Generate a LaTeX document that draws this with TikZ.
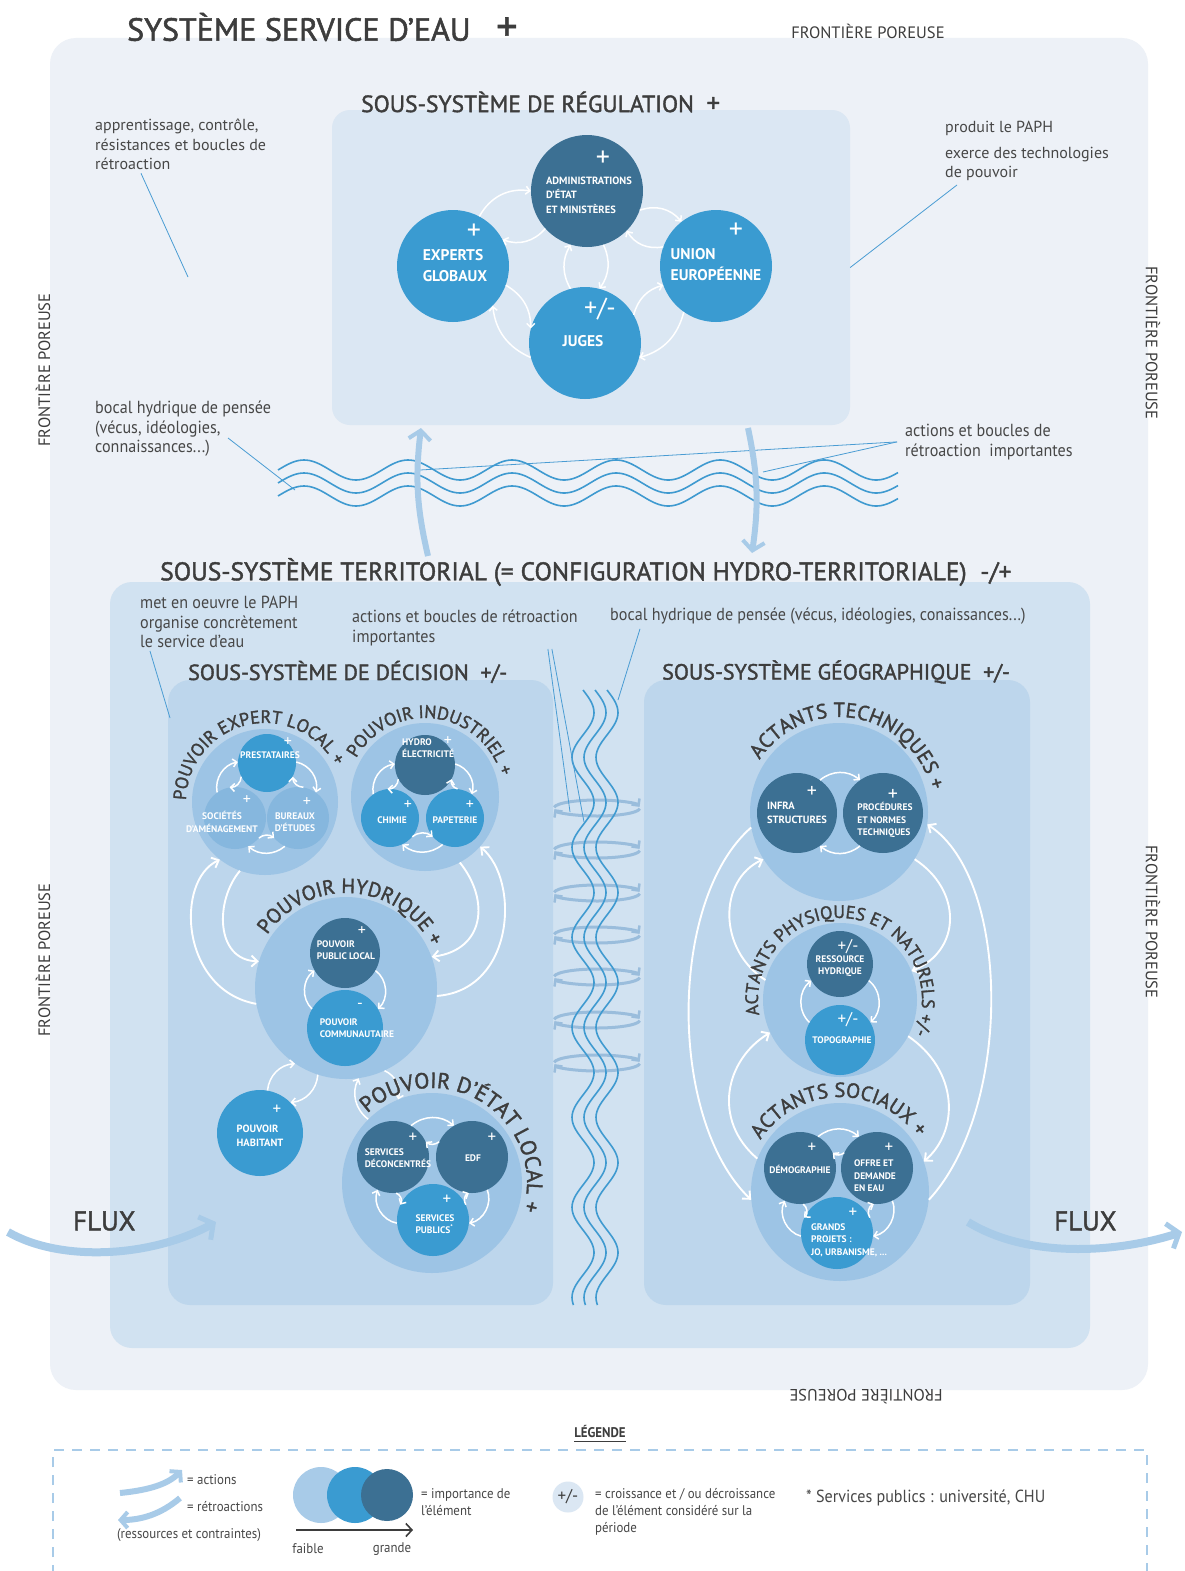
\documentclass[tikz,border=0pt]{standalone}
\usepackage{fontspec}
\setmainfont{PT Sans}
\newfontfamily\condfont[FakeStretch=0.92]{PT Sans}
\newfontfamily\semifont[FakeBold=1.6]{PT Sans}
\usetikzlibrary{arrows.meta,positioning,decorations.text}
\definecolor{outerfill}{HTML}{EDF1F7}
\definecolor{regfill}{HTML}{DBE7F3}
\definecolor{terrfill}{HTML}{D1E2F1}
\definecolor{subfill}{HTML}{BDD6EC}
\definecolor{grpfill}{HTML}{9DC4E5}
\definecolor{darkc}{HTML}{3C7093}
\definecolor{midc}{HTML}{3A9BD1}
\definecolor{lightc}{HTML}{86B7DE}
\definecolor{wavec}{HTML}{3F9AD0}
\definecolor{flowc}{HTML}{A8CBE8}
\definecolor{loopc}{HTML}{9ABDDC}
\definecolor{txtc}{HTML}{3D3D3D}
\definecolor{notec}{HTML}{474747}
\definecolor{leadc}{HTML}{4A9CD3}
\newcommand\arcS{\semifont\fontsize{18}{18}\selectfont}
\newcommand\arcM{\semifont\fontsize{20.5}{20.5}\selectfont}
\newcommand\arcL{\semifont\fontsize{22}{22}\selectfont}

\begin{document}
\begin{tikzpicture}[x=1pt, y=1pt,
  panel/.style={rectangle, rounded corners=#1, inner sep=0pt, draw=none},
  grp/.style={circle, fill=grpfill, inner sep=0pt, minimum size=#1},
  dk/.style={circle, fill=darkc, inner sep=0pt, minimum size=#1},
  md/.style={circle, fill=midc, inner sep=0pt, minimum size=#1},
  lt/.style={circle, fill=lightc, inner sep=0pt, minimum size=#1},
  ttl/.style={anchor=west, inner sep=0pt, text=txtc, font=\semifont\fontsize{#1}{#1}\selectfont},
  fr/.style={inner sep=0pt, text=txtc, font=\fontsize{16.5}{16.5}\selectfont},
  note/.style={anchor=north west, inner sep=0pt, align=left, text=notec, font=\fontsize{16}{19.5}\selectfont},
  cnote/.style={note, font=\condfont\fontsize{17.5}{19.5}\selectfont},
  clabS/.style={inner sep=0pt, text=white, align=left, font=\bfseries\fontsize{9.5}{12.5}\selectfont},
  clabM/.style={inner sep=0pt, text=white, align=left, font=\bfseries\fontsize{10.5}{14.5}\selectfont},
  clabL/.style={inner sep=0pt, text=white, align=left, font=\bfseries\fontsize{15.5}{21}\selectfont},
  pls/.style={inner sep=0pt, text=white, font=\fontsize{#1}{#1}\selectfont},
  wa/.style={draw=white, line width=1.5pt, -{Straight Barb[length=4pt,width=8pt]}},
  wab/.style={draw=white, line width=1.9pt, -{Straight Barb[length=6pt,width=11pt]}},
  leader/.style={draw=leadc, line width=0.8pt},
  wave/.style={draw=wavec, line width=1.6pt},
  bigar/.style={draw=flowc, line width=6pt, -{Straight Barb[length=9pt,width=22pt,line width=4pt]}},
  fluxar/.style={draw=flowc, line width=8pt, -{Straight Barb[length=10pt,width=26pt,line width=5pt]}},
  loopar/.style={draw=loopc, line width=3pt, -{Straight Barb[length=5pt,width=10pt,line width=2.5pt]}},
  legtxt/.style={inner sep=0pt, text=notec, align=left, font=\condfont\fontsize{14}{17}\selectfont}
]
\useasboundingbox (0,0) rectangle (1184,-1571);
\fill[white] (0,0) rectangle (1184,-1571);

% frames
\node[panel=26pt, fill=outerfill, minimum width=1098pt, minimum height=1352pt] (sys) at (599,-714) {};
\node[panel=18pt, fill=regfill, minimum width=518pt, minimum height=315pt] (reg) at (591,-267.5) {};
\node[panel=22pt, fill=terrfill, minimum width=980pt, minimum height=766pt] (terr) at (600,-965) {};
\node[panel=22pt, fill=subfill, minimum width=385pt, minimum height=625pt] (dec) at (360.5,-992.5) {};
\node[panel=22pt, fill=subfill, minimum width=386pt, minimum height=625pt] (geo) at (837,-992.5) {};

% titles
\node[ttl=32] (sysT) at (127,-27) {SYSTÈME SERVICE D’EAU\ \ \ {\fontsize{42}{42}\selectfont +}};
\node[ttl=23.5] (regT) at (361,-102) {SOUS-SYSTÈME DE RÉGULATION\ \ {\fontsize{27}{27}\selectfont +}};
\node[ttl=25.5] (terrT) at (160,-572) {SOUS-SYSTÈME TERRITORIAL (= CONFIGURATION HYDRO-TERRITORIALE)\ \ -/+};
\node[ttl=22] (decT) at (188,-672) {SOUS-SYSTÈME DE DÉCISION\ \ +/-};
\node[ttl=22] (geoT) at (662,-672) {SOUS-SYSTÈME GÉOGRAPHIQUE\ \ +/-};

% porous borders
\node[fr] (frTop) at (868,-31) {FRONTIÈRE POREUSE};
\node[fr, rotate=90] (frL1) at (43,-370) {FRONTIÈRE POREUSE};
\node[fr, rotate=90] (frL2) at (43,-960) {FRONTIÈRE POREUSE};
\node[fr, rotate=-90] (frR1) at (1153,-343) {FRONTIÈRE POREUSE};
\node[fr, rotate=-90] (frR2) at (1153,-922) {FRONTIÈRE POREUSE};
\node[fr, rotate=180] (frB) at (866,-1397) {FRONTIÈRE POREUSE};

% regulation sub-system
\node[dk=112pt] (adm) at (587,-191) {};
\node[md=112pt] (exp) at (453,-266) {};
\node[md=112pt] (ue) at (716,-266) {};
\node[md=112pt] (jug) at (585,-343) {};
\node[clabM] (admT) at (589,-195) {ADMINISTRATIONS\\D’ÉTAT\\ET MINISTÈRES};
\node[clabL] (expT) at (455,-266) {EXPERTS\\GLOBAUX};
\node[clabL] (ueT) at (716,-265) {UNION\\EUROPÉENNE};
\node[clabL] (jugT) at (583,-341) {JUGES};
\node[pls=28] (admP) at (603,-159) {+};
\node[pls=28] (expP) at (474,-232) {+};
\node[pls=28] (ueP) at (736,-231) {+};
\node[pls=26] (jugP) at (600,-309) {+/-};
\draw[wa] (exp.62) to[bend left=35] (adm.180);
\draw[wa] (adm.222) to[bend left=35] (exp.28);
\draw[wa] (jug.105) to[bend left=30] (adm.253);
\draw[wa] (adm.287) to[bend left=30] (jug.75);
\draw[wa] (adm.340) to[bend left=35] (ue.128);
\draw[wa] (ue.160) to[bend left=35] (adm.315);
\draw[wa] (exp.-20) to[bend left=30] (jug.165);
\draw[wa] (jug.195) to[bend left=30] (exp.-45);
\draw[wa] (jug.30) to[bend left=30] (ue.200);
\draw[wa] (ue.235) to[bend left=30] (jug.-15);

% notes of the upper part
\node[note] (noteA) at (95,-119) {apprentissage, contrôle,\\résistances et boucles de\\rétroaction};
\node[note] (noteB) at (945,-121) {produit le PAPH\\[6pt]exerce des technologies\\de pouvoir};
\node[cnote] (noteC) at (95,-401) {bocal hydrique de pensée\\(vécus, idéologies,\\connaissances...)};
\node[cnote] (noteD) at (905,-424) {actions et boucles de\\rétroaction\ \ importantes};
\coordinate (ldA) at (188,-277);
\coordinate (ldC) at (295,-490);
\coordinate (ldD1) at (420,-470);
\coordinate (ldD2) at (763,-472);
\draw[leader] ([shift={(46,-3)}]noteA.south west) -- (ldA);
\draw[leader] ([shift={(12,-4)}]noteB.south west) -- (reg.east);
\draw[leader] ([shift={(133,-37)}]noteC.north west) -- (ldC);
\draw[leader] ([xshift=-8pt]noteD.west) -- (ldD1);
\draw[leader] ([xshift=-8pt]noteD.west) -- (ldD2);

% water of thought, horizontal
\foreach \dy in {470,483,496}
  \draw[wave] plot[domain=278:898, samples=240, smooth] (\x, {-\dy+10*sin(3.46*(\x-278))});

% big actions between the two levels
\coordinate (upS) at (428,-556);
\coordinate (upE) at (421,-428);
\coordinate (dnS) at (748,-428);
\coordinate (dnE) at (752,-553);
\draw[bigar] (upS) to[bend left=10] (upE);
\draw[bigar] (dnS) to[bend left=10] (dnE);

% notes of the territorial part
\node[cnote] (noteE) at (140,-596) {met en oeuvre le PAPH\\organise concrètement\\le service d’eau};
\node[cnote] (noteF) at (352,-610) {actions et boucles de rétroaction\\importantes};
\node[cnote] (noteG) at (610,-608) {bocal hydrique de pensée (vécus, idéologies, conaissances...)};
\coordinate (ldE) at (170,-718);
\coordinate (ldF1) at (570,-812);
\coordinate (ldF2) at (584,-822);
\coordinate (ldG) at (618,-700);

% loops between the two sub-systems
\foreach \ly in {808,850,893,935,977,1020,1063} {
  \draw[loopar] (597,-\ly) ++(175:43 and 8) arc[start angle=175, end angle=8, x radius=43, y radius=8];
  \draw[loopar] (597,-\ly) ++(-5:43 and 8) arc[start angle=-5, end angle=-172, x radius=43, y radius=8];
}
\foreach \dx in {-12,0,12}
  \draw[wave] plot[domain=690:1305, samples=240, smooth] ({595+\dx+11*sin(4*(\x-690))}, {-\x});

\draw[leader] ([shift={(10,-3)}]noteE.south west) -- (ldE);
\draw[leader] ([shift={(-30,-3)}]noteF.south east) -- (ldF1);
\draw[leader] ([shift={(-26,-3)}]noteF.south east) -- (ldF2);
\draw[leader] ([shift={(30,-4)}]noteG.south west) -- (ldG);

% decision: groups
\node[grp=146pt] (gexp) at (265,-802) {};
\node[grp=148pt] (gind) at (425,-797) {};
\node[grp=182pt] (ghyd) at (346,-988) {};
\node[grp=180pt] (getat) at (432,-1183) {};
\node[md=86pt] (hab) at (260,-1133) {};

% expert local
\node[lt=62pt] (soc) at (235,-818) {};
\node[lt=62pt] (bur) at (298,-818) {};
\node[md=58pt] (pres) at (267,-763) {};
\node[clabS] (presT) at (270,-755) {PRESTATAIRES};
\node[clabS, align=center] (socT) at (222,-822) {SOCIÉTÉS\\D’AMÉNAGEMENT};
\node[clabS, align=center] (burT) at (295,-822) {BUREAUX\\D’ÉTUDES};
\node[pls=16] (presP) at (288,-742) {+};
\node[pls=16] (socP) at (247,-800) {+};
\node[pls=16] (burP) at (307,-802) {+};
\draw[wa] (soc.125) to[bend left=45] (pres.178);
\draw[wa] (pres.208) to[bend left=45] (soc.100);
\draw[wa] (pres.2) to[bend left=45] (bur.55);
\draw[wa] (bur.80) to[bend left=45] (pres.-28);
\draw[wa] (soc.-40) to[bend left=40] (bur.220);
\draw[wa] (bur.245) to[bend left=40] (soc.-65);

% industriel
\node[dk=60pt] (hyd) at (425,-765) {};
\node[md=58pt] (chim) at (390,-818) {};
\node[md=58pt] (pap) at (455,-818) {};
\node[clabS] (hydT) at (428,-748) {HYDRO\\ÉLECTRICITÉ};
\node[clabS] (chimT) at (392,-820) {CHIMIE};
\node[clabS] (papT) at (455,-820) {PAPETERIE};
\node[pls=16] (hydP) at (448,-741) {+};
\node[pls=16] (chimP) at (408,-805) {+};
\node[pls=16] (papP) at (470,-805) {+};
\draw[wa] (chim.125) to[bend left=45] (hyd.178);
\draw[wa] (hyd.208) to[bend left=45] (chim.95);
\draw[wa] (hyd.2) to[bend left=45] (pap.55);
\draw[wa] (pap.85) to[bend left=45] (hyd.-28);
\draw[wa] (chim.-40) to[bend left=40] (pap.220);
\draw[wa] (pap.245) to[bend left=40] (chim.-65);

% hydrique
\node[dk=70pt] (ppl) at (345,-953) {};
\node[md=76pt] (pcom) at (345,-1028) {};
\node[clabS] (pplT) at (346,-950) {POUVOIR\\PUBLIC LOCAL};
\node[clabS] (pcomT) at (357,-1028) {POUVOIR\\COMMUNAUTAIRE};
\node[pls=16] (pplP) at (362,-931) {+};
\node[pls=16] (pcomP) at (360,-1006) {-};
\draw[wa] (pcom.150) to[bend left=50] (ppl.210);
\draw[wa] (ppl.-30) to[bend left=50] (pcom.30);

% habitant
\node[clabM, align=left] (habT) at (260,-1136) {POUVOIR\\HABITANT};
\node[pls=17] (habP) at (277,-1110) {+};
\draw[wa] (hab.80) to[bend left=40] (ghyd.236);
\draw[wa] (ghyd.252) to[bend left=40] (hab.45);

% etat local
\node[dk=72pt] (sdec) at (393,-1157) {};
\node[dk=72pt] (edf) at (472,-1157) {};
\node[md=72pt] (spub) at (433,-1220) {};
\node[clabS] (sdecT) at (398,-1158) {SERVICES\\DÉCONCENTRÉS};
\node[clabS] (edfT) at (473,-1158) {EDF};
\node[clabS] (spubT) at (435,-1224) {SERVICES\\PUBLICS\textsuperscript{*}};
\node[pls=17] (sdecP) at (413,-1138) {+};
\node[pls=17] (edfP) at (492,-1138) {+};
\node[pls=17] (spubP) at (447,-1200) {+};
\draw[wa] (sdec.60) to[bend left=40] (edf.120);
\draw[wa] (edf.155) to[bend left=40] (sdec.25);
\draw[wa] (spub.185) to[bend left=50] (sdec.245);
\draw[wa] (sdec.275) to[bend left=50] (spub.155);
\draw[wa] (edf.-65) to[bend left=50] (spub.-5);
\draw[wa] (spub.25) to[bend left=50] (edf.-95);
\draw[wa] (getat.135) to[bend left=40] (ghyd.278);
\draw[wa] (ghyd.295) to[bend left=40] (getat.112);

% decision: big loops
\draw[wab] (ghyd.190) .. controls (180,-990) and (175,-880) .. (gexp.232);
\draw[wab] (gexp.250) .. controls (215,-900) and (215,-960) .. (ghyd.163);
\draw[wab] (gind.-62) .. controls (490,-900) and (485,-950) .. (ghyd.20);
\draw[wab] (ghyd.-5) .. controls (515,-990) and (520,-880) .. (gind.-42);

% decision: group names
\path[decorate, decoration={text along path, text color=txtc, text align=center,
  text={|\arcS|POUVOIR EXPERT LOCAL +}}] (gexp.center) ++(223:79) arc[start angle=223, end angle=-17, radius=79];
\path[decorate, decoration={text along path, text color=txtc, text align=center,
  text={|\arcS|POUVOIR INDUSTRIEL +}}] (gind.center) ++(203:79) arc[start angle=203, end angle=-37, radius=79];
\path[decorate, decoration={text along path, text color=txtc, text align=center,
  text={|\arcM|POUVOIR HYDRIQUE +}}] (ghyd.center) ++(206:95) arc[start angle=206, end angle=-34, radius=95];
\path[decorate, decoration={text along path, text color=txtc, text align=center,
  text={|\arcL|POUVOIR D’ÉTAT LOCAL +}}] (getat.center) ++(178:95) arc[start angle=178, end angle=-62, radius=95];

% geographic: groups
\node[grp=178pt] (gtech) at (839,-812) {};
\node[grp=154pt] (gphys) at (840,-1000) {};
\node[grp=178pt] (gsoc) at (840,-1192) {};

\node[dk=80pt] (infra) at (797,-813) {};
\node[dk=80pt] (proc) at (883,-813) {};
\node[clabM] (infraT) at (797,-813) {INFRA\\STRUCTURES};
\node[clabS] (procT) at (885,-820) {PROCÉDURES\\ET NORMES\\TECHNIQUES};
\node[pls=20] (infraP) at (812,-792) {+};
\node[pls=20] (procP) at (893,-795) {+};
\draw[wa] (infra.55) to[bend left=40] (proc.125);
\draw[wa] (proc.-125) to[bend left=40] (infra.-55);

\node[dk=66pt] (ress) at (840,-964) {};
\node[md=70pt] (topo) at (840,-1040) {};
\node[clabS, align=center] (ressT) at (840,-966) {RESSOURCE\\HYDRIQUE};
\node[clabS] (topoT) at (842,-1040) {TOPOGRAPHIE};
\node[pls=17] (ressP) at (848,-947) {+/-};
\node[pls=17] (topoP) at (848,-1020) {+/-};
\draw[wa] (topo.150) to[bend left=50] (ress.210);
\draw[wa] (ress.-30) to[bend left=50] (topo.30);

\node[dk=72pt] (demo) at (800,-1168) {};
\node[dk=72pt] (offre) at (877,-1168) {};
\node[md=72pt] (grands) at (837,-1233) {};
\node[clabS] (demoT) at (800,-1169) {DÉMOGRAPHIE};
\node[clabS] (offreT) at (875,-1176) {OFFRE ET\\DEMANDE\\EN EAU};
\node[clabS] (grandsT) at (849,-1240) {GRANDS\\PROJETS :\\JO, URBANISME, ...};
\node[pls=17] (demoP) at (812,-1148) {+};
\node[pls=17] (offreP) at (889,-1148) {+};
\node[pls=17] (grandsP) at (853,-1213) {+};
\draw[wa] (demo.60) to[bend left=40] (offre.120);
\draw[wa] (offre.155) to[bend left=40] (demo.25);
\draw[wa] (grands.185) to[bend left=50] (demo.245);
\draw[wa] (demo.275) to[bend left=50] (grands.155);
\draw[wa] (offre.-65) to[bend left=50] (grands.-5);
\draw[wa] (grands.25) to[bend left=50] (offre.-95);

% geographic: big loops
\draw[wab] (gtech.190) .. controls (668,-900) and (668,-1120) .. (gsoc.185);
\draw[wab] (gphys.165) .. controls (718,-950) and (718,-880) .. (gtech.212);
\draw[wab] (gsoc.158) .. controls (712,-1120) and (725,-1060) .. (gphys.205);
\draw[wab] (gtech.-32) .. controls (962,-890) and (962,-950) .. (gphys.22);
\draw[wab] (gphys.-28) .. controls (958,-1070) and (960,-1130) .. (gsoc.20);
\draw[wab] (gsoc.-5) .. controls (1012,-1110) and (1012,-880) .. (gtech.-8);

% geographic: group names
\path[decorate, decoration={text along path, text color=txtc, text align=center,
  text={|\arcM|ACTANTS TECHNIQUES +}}] (gtech.center) ++(200:95) arc[start angle=200, end angle=-40, radius=95];
\path[decorate, decoration={text along path, text color=txtc, text align=center,
  text={|\arcS|ACTANTS PHYSIQUES ET NATURELS +/-}}] (gphys.center) ++(215:82) arc[start angle=215, end angle=-49, radius=82];
\path[decorate, decoration={text along path, text color=txtc, text align=center,
  text={|\arcM|ACTANTS SOCIAUX +}}] (gsoc.center) ++(211:95) arc[start angle=211, end angle=-29, radius=95];

% flows in and out
\coordinate (fluxLs) at (8,-1232);
\coordinate (fluxLe) at (216,-1222);
\coordinate (fluxRs) at (968,-1222);
\coordinate (fluxRe) at (1182,-1232);
\draw[fluxar] (fluxLs) .. controls (60,-1262) and (150,-1258) .. (fluxLe);
\draw[fluxar] (fluxRs) .. controls (1030,-1260) and (1120,-1252) .. (fluxRe);
\node[ttl=27] (fluxL) at (73,-1221) {FLUX};
\node[ttl=27] (fluxR) at (1054,-1221) {FLUX};

% legend
\node[inner sep=0pt, text=txtc, font=\condfont\bfseries\fontsize{14}{14}\selectfont] (legT) at (600,-1431) {LÉGENDE};
\draw[txtc, line width=1.6pt] ([yshift=-4pt]legT.south west) -- ([yshift=-4pt]legT.south east);
\draw[flowc, line width=1.8pt, dash pattern=on 10pt off 8pt] (53,-1575) -- (53,-1450) -- (1147,-1450) -- (1147,-1575);

\coordinate (icA1) at (120,-1493);
\coordinate (icA2) at (182,-1470);
\coordinate (icB1) at (180,-1498);
\coordinate (icB2) at (118,-1520);
\draw[flowc, line width=6pt, -{Straight Barb[length=7pt,width=16pt,line width=4pt]}] (icA1) .. controls (150,-1490) and (168,-1484) .. (icA2);
\draw[flowc, line width=6pt, -{Straight Barb[length=7pt,width=16pt,line width=4pt]}] (icB1) .. controls (160,-1515) and (140,-1520) .. (icB2);
\node[legtxt, anchor=west] (legAct) at (187,-1480) {= actions};
\node[legtxt, anchor=west] (legRet) at (187,-1507) {= rétroactions};
\node[legtxt] (legRes) at (189,-1535) {(ressources et contraintes)};

\node[circle, fill=flowc, minimum size=56pt, inner sep=0pt] (impL) at (321,-1495) {};
\node[circle, fill=midc, minimum size=56pt, inner sep=0pt] (impM) at (355,-1495) {};
\node[circle, fill=darkc, minimum size=52pt, inner sep=0pt] (impD) at (387,-1495) {};
\coordinate (impA) at (296,-1530);
\coordinate (impB) at (413,-1530);
\draw[txtc, line width=1.6pt, -{Straight Barb[length=6pt,width=13pt]}] (impA) -- (impB);
\node[legtxt] (legFai) at (308,-1549) {faible};
\node[legtxt] (legGra) at (392,-1549) {grande};
\node[legtxt, anchor=west] (legImp) at (421,-1502) {= importance de\\l’élément};

\node[circle, fill=regfill, minimum size=31pt, inner sep=0pt, text=txtc, font=\fontsize{17}{17}\selectfont] (legPm) at (568,-1497) {+/-};
\node[legtxt, anchor=north west] (legCro) at (595,-1488) {= croissance et / ou décroissance\\de l’élément considéré sur la\\période};
\node[legtxt, anchor=west, font=\condfont\fontsize{17.5}{17.5}\selectfont] (legSp) at (806,-1498) {* Services publics : université, CHU};
\end{tikzpicture}
\end{document}
